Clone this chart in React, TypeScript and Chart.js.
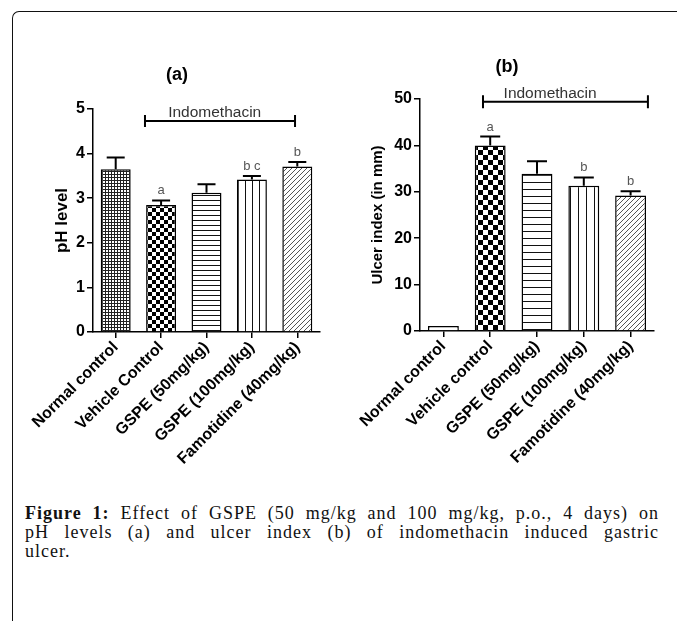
import React, { useEffect, useRef } from "react";
import { Chart, registerables } from "chart.js";
Chart.register(...registerables);

const categoriesA = ["Normal control", "Vehicle Control", "GSPE (50mg/kg)", "GSPE (100mg/kg)", "Famotidine (40mg/kg)"];
const phLevels = [3.65, 2.85, 3.12, 3.42, 3.71];
const phErrors = [0.26, 0.1, 0.19, 0.08, 0.1];
const phLetters = ["", "a", "", "b c", "b"];
const phTicks = [0, 1, 2, 3, 4, 5];

const categoriesB = ["Normal control", "Vehicle control", "GSPE (50mg/kg)", "GSPE (100mg/kg)", "Famotidine (40mg/kg)"];
const ulcerIndex = [1.1, 40.0, 33.9, 31.3, 29.2];
const ulcerErrors = [0, 1.9, 2.7, 1.8, 0.9];
const ulcerLetters = ["", "a", "", "b", "b"];
const ulcerTicks = [0, 10, 20, 30, 40, 50];

const bracketLabel = "Indomethacin";
const titleA = "(a)";
const titleB = "(b)";
const yTitleA = "pH level";
const yTitleB = "Ulcer index (in mm)";
const patternsA = ["dots", "checker", "hlines", "vlines", "diag"];
const patternsB = ["blank", "checker", "hlines", "vlines", "diag"];

const captionBold = "Figure 1:";
const captionLine1 = " Effect of GSPE (50 mg/kg and 100 mg/kg, p.o., 4 days) on";
const captionLine2 = "pH levels (a) and ulcer index (b) of indomethacin induced gastric";
const captionLine3 = "ulcer.";

const SANS = "'Liberation Sans', Arial, sans-serif";

function makePattern(kind: string, big: boolean): CanvasPattern | string {
  const c = document.createElement("canvas");
  const g = c.getContext("2d")!;
  if (kind === "blank") return "#ffffff";
  if (kind === "dots") {
    c.width = 3; c.height = 3;
    g.fillStyle = "#fff"; g.fillRect(0, 0, 3, 3);
    g.fillStyle = "#222"; g.fillRect(0, 0, 3, 1); g.fillRect(0, 0, 1, 3);
  } else if (kind === "checker") {
    const s = big ? 5 : 4;
    c.width = 2 * s; c.height = 2 * s;
    g.fillStyle = "#fff"; g.fillRect(0, 0, 2 * s, 2 * s);
    g.fillStyle = "#000"; g.fillRect(0, 0, s, s); g.fillRect(s, s, s, s);
  } else if (kind === "hlines") {
    const s = big ? 7 : 5;
    c.width = 4; c.height = s;
    g.fillStyle = "#fff"; g.fillRect(0, 0, 4, s);
    g.fillStyle = "#111"; g.fillRect(0, 0, 4, 1);
  } else if (kind === "vlines") {
    const s = big ? 8 : 7;
    c.width = s; c.height = 4;
    g.fillStyle = "#fff"; g.fillRect(0, 0, s, 4);
    g.fillStyle = "#111"; g.fillRect(0, 0, 1, 4);
  } else {
    const s = 5;
    c.width = s; c.height = s;
    g.fillStyle = "#fff"; g.fillRect(0, 0, s, s);
    g.strokeStyle = "#555"; g.lineWidth = 1;
    g.beginPath();
    g.moveTo(-1, s + 1); g.lineTo(s + 1, -1);
    g.moveTo(-1, 1); g.lineTo(1, -1);
    g.moveTo(s - 1, s + 1); g.lineTo(s + 1, s - 1);
    g.stroke();
  }
  return g.createPattern(c, "repeat")!;
}

type AnnotCfg = {
  values: number[]; errors: number[]; letters: string[]; cap: number;
  bracketStart: number; bracketEnd: number; bracketY: number; bracketTick: number; textX: number; textSize: number;
  title: string; titleX: number; titleY: number; titleSize: number;
};

function makeAnnot(cfg: AnnotCfg) {
  return {
    id: "annot",
    afterDatasetsDraw(chart: any) {
      const { ctx } = chart;
      const x = chart.scales.x, y = chart.scales.y;
      ctx.save();
      cfg.values.forEach((v, i) => {
        const e = cfg.errors[i];
        const px = x.getPixelForValue(i);
        const top = y.getPixelForValue(v + e);
        if (e > 0) {
          const base = y.getPixelForValue(v);
          ctx.strokeStyle = "#000"; ctx.lineWidth = 2;
          ctx.beginPath();
          ctx.moveTo(px, base); ctx.lineTo(px, top);
          ctx.moveTo(px - cfg.cap / 2, top); ctx.lineTo(px + cfg.cap / 2, top);
          ctx.stroke();
        }
        const letter = cfg.letters[i];
        if (letter) {
          ctx.fillStyle = "#555";
          ctx.font = `13px ${SANS}`;
          ctx.textAlign = "center"; ctx.textBaseline = "alphabetic";
          ctx.fillText(letter, px, top - 6);
        }
      });
      const by = y.getPixelForValue(cfg.bracketY);
      const bx1 = x.getPixelForValue(cfg.bracketStart);
      const bx2 = x.getPixelForValue(cfg.bracketEnd);
      ctx.strokeStyle = "#000"; ctx.lineWidth = 2;
      ctx.beginPath();
      ctx.moveTo(bx1, by); ctx.lineTo(bx2, by);
      ctx.moveTo(bx1, by - cfg.bracketTick); ctx.lineTo(bx1, by + cfg.bracketTick);
      ctx.moveTo(bx2, by - cfg.bracketTick); ctx.lineTo(bx2, by + cfg.bracketTick);
      ctx.stroke();
      ctx.fillStyle = "#333";
      ctx.font = `${cfg.textSize}px ${SANS}`;
      ctx.textAlign = "center"; ctx.textBaseline = "alphabetic";
      ctx.fillText(bracketLabel, x.getPixelForValue(cfg.textX), by - 4);
      ctx.fillStyle = "#000";
      ctx.font = `bold ${cfg.titleSize}px ${SANS}`;
      ctx.textBaseline = "middle";
      ctx.fillText(cfg.title, cfg.titleX, cfg.titleY);
      ctx.restore();
    },
  };
}

function buildConfig(p: {
  labels: string[]; values: number[]; patterns: any[]; ticks: number[];
  yTitle: string; yTitleSize: number; yTitlePad: number; yTickSize: number; yWidth: number; xHeight: number;
  padTop: number; padRight: number; annot: AnnotCfg;
}): any {
  const tickVals = p.ticks;
  return {
    type: "bar",
    data: {
      labels: p.labels,
      datasets: [{
        data: p.values,
        backgroundColor: p.patterns,
        borderColor: "#000",
        borderWidth: 1.5,
        categoryPercentage: 1,
        barPercentage: 0.66,
      }],
    },
    options: {
      animation: false,
      responsive: false,
      devicePixelRatio: 1,
      layout: { padding: { top: p.padTop, right: p.padRight, left: 0, bottom: 0 } },
      plugins: { legend: { display: false }, tooltip: { enabled: false }, title: { display: false } },
      scales: {
        x: {
          offset: true,
          grid: { drawOnChartArea: false, drawTicks: true, tickLength: 6, color: "#000", lineWidth: 1.5, offset: false },
          border: { color: "#000", width: 1.5 },
          ticks: {
            color: "#000", font: { family: SANS, weight: "bold", size: 16 },
            maxRotation: 45, minRotation: 45, autoSkip: false, padding: 0,
          },
          afterFit(scale: any) { scale.height = p.xHeight; scale.paddingLeft = 0; scale.paddingRight = 0; },
        },
        y: {
          min: tickVals[0], max: tickVals[tickVals.length - 1],
          afterBuildTicks(scale: any) { scale.ticks = tickVals.map((v) => ({ value: v })); },
          grid: { drawOnChartArea: false, drawTicks: true, tickLength: 6, color: "#000", lineWidth: 1.5 },
          border: { color: "#000", width: 1.5 },
          ticks: { color: "#000", font: { family: SANS, weight: "bold", size: p.yTickSize }, padding: 2 },
          title: {
            display: true, text: p.yTitle, color: "#000",
            font: { family: SANS, weight: "bold", size: p.yTitleSize },
            padding: { top: p.yTitlePad, bottom: 0 },
          },
          afterFit(scale: any) { scale.width = p.yWidth; scale.paddingTop = 0; scale.paddingBottom = 0; },
        },
      },
    },
    plugins: [makeAnnot(p.annot)],
  };
}

export default function App() {
  const refA = useRef<HTMLCanvasElement>(null);
  const refB = useRef<HTMLCanvasElement>(null);

  useEffect(() => {
    const chartA = new Chart(refA.current!, buildConfig({
      labels: categoriesA, values: phLevels, patterns: patternsA.map((k) => makePattern(k, false)),
      ticks: phTicks, yTitle: yTitleA, yTitleSize: 17, yTitlePad: 52, yTickSize: 16, yWidth: 93, xHeight: 148,
      padTop: 109, padRight: 20,
      annot: {
        values: phLevels, errors: phErrors, letters: phLetters, cap: 18,
        bracketStart: 0.645, bracketEnd: 3.95, bracketY: 4.73, bracketTick: 6, textX: 2.18, textSize: 15.5,
        title: titleA, titleX: 177, titleY: 75, titleSize: 18,
      },
    }));
    const chartB = new Chart(refB.current!, buildConfig({
      labels: categoriesB, values: ulcerIndex, patterns: patternsB.map((k) => makePattern(k, true)),
      ticks: ulcerTicks, yTitle: yTitleB, yTitleSize: 15, yTitlePad: 31, yTickSize: 16, yWidth: 82, xHeight: 149,
      padTop: 99, padRight: 23,
      annot: {
        values: ulcerIndex, errors: ulcerErrors, letters: ulcerLetters, cap: 20,
        bracketStart: 0.846, bracketEnd: 4.37, bracketY: 49.4, bracketTick: 6.5, textX: 2.28, textSize: 15.5,
        title: titleB, titleX: 169, titleY: 67, titleSize: 18,
      },
    }));
    return () => { chartA.destroy(); chartB.destroy(); };
  }, []);

  const lineStyle: React.CSSProperties = {
    position: "absolute", left: 25, width: 634, height: 19, lineHeight: "19px",
    fontFamily: "'Liberation Serif', 'Times New Roman', serif", fontSize: 18, color: "#111",
    letterSpacing: "1px", whiteSpace: "nowrap",
  };
  const justified: React.CSSProperties = { ...lineStyle, whiteSpace: "normal", textAlign: "justify", textAlignLast: "justify" as any };

  return (
    <div style={{ position: "fixed", left: 0, top: 0, width: 677, height: 621, overflow: "hidden", background: "#fff" }}>
      <div style={{
        position: "absolute", left: 12, top: 11, width: 800, height: 800,
        borderTop: "1.5px solid #111", borderLeft: "1.5px solid #111", borderTopLeftRadius: 7,
      }} />
      <div style={{ position: "absolute", left: 0, top: 0, width: 340, height: 480 }}>
        <canvas ref={refA} width={340} height={480} style={{ display: "block" }} />
      </div>
      <div style={{ position: "absolute", left: 338, top: 0, width: 339, height: 480 }}>
        <canvas ref={refB} width={339} height={480} style={{ display: "block" }} />
      </div>
      <div style={{ ...justified, top: 504 }}><b>{captionBold}</b>{captionLine1}</div>
      <div style={{ ...justified, top: 523 }}>{captionLine2}</div>
      <div style={{ ...lineStyle, top: 542 }}>{captionLine3}</div>
    </div>
  );
}
